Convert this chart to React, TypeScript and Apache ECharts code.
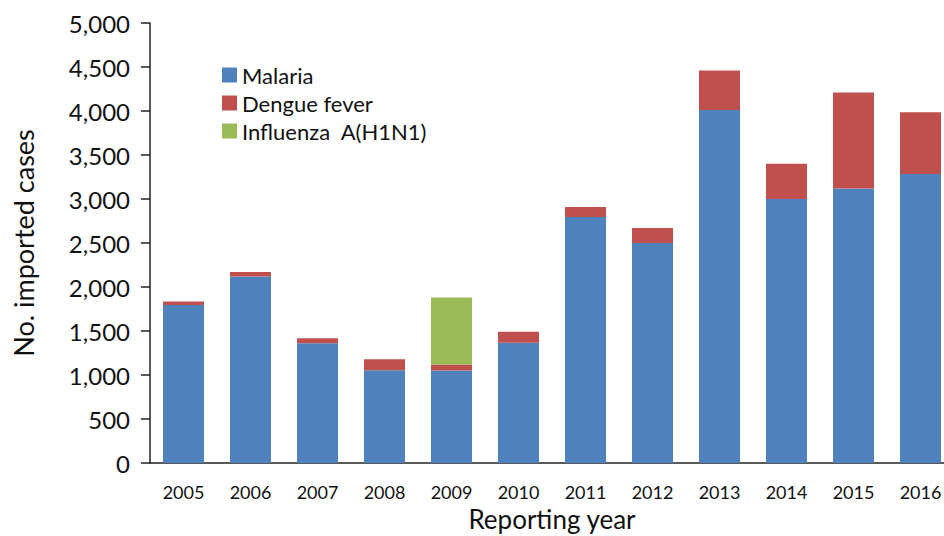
import React, { useEffect, useRef } from "react";
import * as echarts from "echarts";

const years = ["2005", "2006", "2007", "2008", "2009", "2010", "2011", "2012", "2013", "2014", "2015", "2016"];
const malaria = [1795, 2120, 1360, 1055, 1050, 1367, 2795, 2500, 4010, 3000, 3120, 3285];
const dengue = [40, 50, 57, 125, 70, 125, 115, 170, 450, 400, 1090, 700];
const influenza = [0, 0, 0, 0, 760, 0, 0, 0, 0, 0, 0, 0];

const FONT = "Lato, 'Open Sans', sans-serif";

export default function App() {
  const ref = useRef<HTMLDivElement>(null);
  useEffect(() => {
    if (!ref.current) return;
    const chart = echarts.init(ref.current, null, { renderer: "svg" });
    chart.setOption({
      animation: false,
      textStyle: { fontFamily: FONT },
      grid: { left: 150, right: -10, top: 23, bottom: 73, containLabel: false, outerBoundsMode: "none" },
      legend: {
        orient: "vertical",
        left: 217,
        top: 59,
        itemWidth: 15,
        itemHeight: 15,
        itemGap: 6,
        icon: "rect",
        textStyle: { fontSize: 22, color: "#111", fontFamily: FONT },
        data: ["Malaria", "Dengue fever", "Influenza  A(H1N1)"],
      },
      xAxis: {
        type: "category",
        data: years,
        axisTick: { show: false },
        axisLine: { lineStyle: { color: "#222", width: 1.5 } },
        axisLabel: { color: "#111", fontSize: 18, margin: 20, fontFamily: FONT },
        name: "Reporting year",
        nameLocation: "middle",
        nameGap: 42,
        nameTextStyle: { fontSize: 26, color: "#111", fontFamily: FONT },
      },
      yAxis: {
        type: "value",
        min: 0,
        max: 5000,
        interval: 500,
        splitLine: { show: false },
        axisLine: { show: true, lineStyle: { color: "#222", width: 1.5 } },
        axisTick: { show: true, inside: false, length: 9, lineStyle: { color: "#222", width: 1.5 } },
        axisLabel: {
          color: "#111",
          fontSize: 24,
          margin: 20,
          fontFamily: FONT,
          formatter: (v: number) => v.toLocaleString("en-US"),
        },
        name: "No. imported cases",
        nameLocation: "middle",
        nameGap: 113,
        nameRotate: 90,
        nameTextStyle: { fontSize: 27, color: "#111", fontFamily: FONT },
      },
      series: [
        {
          name: "Malaria",
          type: "bar",
          stack: "total",
          data: malaria,
          barWidth: 41,
          itemStyle: { color: "#4F81BD" },
        },
        {
          name: "Dengue fever",
          type: "bar",
          stack: "total",
          data: dengue,
          barWidth: 41,
          itemStyle: { color: "#C0504D" },
        },
        {
          name: "Influenza  A(H1N1)",
          type: "bar",
          stack: "total",
          data: influenza,
          barWidth: 41,
          itemStyle: { color: "#9BBB59" },
        },
      ],
    });
    return () => chart.dispose();
  }, []);
  return <div ref={ref} style={{ width: 944, height: 536, position: "absolute", left: 0, top: 0, background: "#fff" }} />;
}
